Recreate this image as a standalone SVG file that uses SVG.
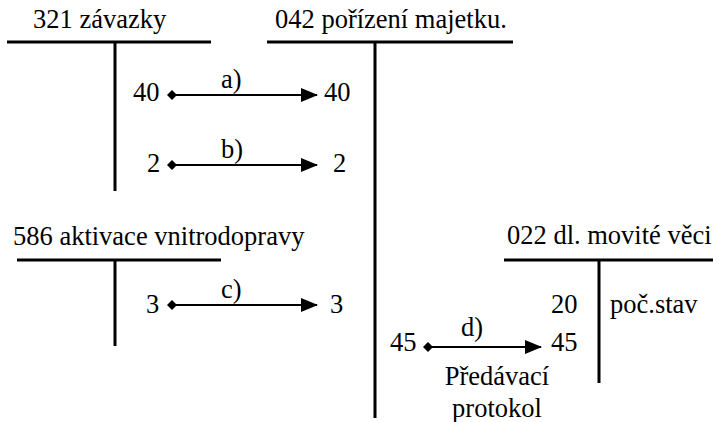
<svg xmlns="http://www.w3.org/2000/svg" width="720" height="422" viewBox="0 0 720 422">
  <style>
    .tx { font-family: "Liberation Serif", serif; font-size: 26.5px; fill: #000; }
    .mid { text-anchor: middle; }
    .t { stroke: #000; stroke-width: 3; fill: none; }
    .arrow { stroke: #000; stroke-width: 2; fill: none; }
  </style>
  <defs>
    <marker id="tri" markerUnits="userSpaceOnUse" viewBox="0 0 17 14" markerWidth="17" markerHeight="14" refX="16" refY="7" orient="auto">
      <path d="M0,0 L17,7 L0,14 Z" fill="#000"/>
    </marker>
    <marker id="dia" markerUnits="userSpaceOnUse" viewBox="0 0 10 10" markerWidth="10" markerHeight="10" refX="5" refY="5" orient="auto">
      <path d="M0,5 L5,0 L10,5 L5,10 Z" fill="#000"/>
    </marker>
  </defs>
  <rect width="720" height="422" fill="#fff"/>

  <g id="acc321">
    <text class="tx" font-family="Liberation Serif" x="33" y="28">321 závazky</text>
    <line class="t" x1="7" y1="42" x2="211" y2="42"/>
    <line class="t" x1="115" y1="42" x2="115" y2="191"/>
    <text class="tx" font-family="Liberation Serif" x="133" y="101">40</text>
    <text class="tx" font-family="Liberation Serif" x="147" y="172">2</text>
  </g>

  <g id="acc042">
    <text class="tx" font-family="Liberation Serif" x="275" y="28">042 pořízení majetku.</text>
    <line class="t" x1="267" y1="42" x2="513" y2="42"/>
    <line class="t" x1="375" y1="42" x2="375" y2="418"/>
    <text class="tx" font-family="Liberation Serif" x="324" y="101">40</text>
    <text class="tx" font-family="Liberation Serif" x="333" y="172">2</text>
    <text class="tx" font-family="Liberation Serif" x="330" y="313">3</text>
    <text class="tx" font-family="Liberation Serif" x="390" y="351">45</text>
  </g>

  <g id="acc586">
    <text class="tx" font-family="Liberation Serif" x="13" y="245">586 aktivace vnitrodopravy</text>
    <line class="t" x1="17" y1="260" x2="221" y2="260"/>
    <line class="t" x1="115" y1="260" x2="115" y2="346"/>
    <text class="tx" font-family="Liberation Serif" x="146" y="313">3</text>
  </g>

  <g id="acc022">
    <text class="tx" font-family="Liberation Serif" x="507" y="244">022 dl. movité věci</text>
    <line class="t" x1="504" y1="260" x2="713" y2="260"/>
    <line class="t" x1="599" y1="260" x2="599" y2="383"/>
    <text class="tx" font-family="Liberation Serif" x="551" y="313">20</text>
    <text class="tx" font-family="Liberation Serif" x="610" y="313">poč.stav</text>
    <text class="tx" font-family="Liberation Serif" x="551" y="351">45</text>
  </g>

  <g id="connectors">
    <line class="arrow" x1="172" y1="95" x2="317" y2="95" marker-start="url(#dia)" marker-end="url(#tri)"/>
    <text class="tx" font-family="Liberation Serif" x="221" y="88">a)</text>
    <line class="arrow" x1="172" y1="165" x2="317" y2="165" marker-start="url(#dia)" marker-end="url(#tri)"/>
    <text class="tx" font-family="Liberation Serif" x="221" y="158">b)</text>
    <line class="arrow" x1="172" y1="305" x2="317" y2="305" marker-start="url(#dia)" marker-end="url(#tri)"/>
    <text class="tx" font-family="Liberation Serif" x="221" y="298">c)</text>
    <line class="arrow" x1="428" y1="347" x2="541" y2="347" marker-start="url(#dia)" marker-end="url(#tri)"/>
    <text class="tx" font-family="Liberation Serif" x="461" y="336">d)</text>
    <text class="tx mid" font-family="Liberation Serif" x="497" y="385">Předávací</text>
    <text class="tx mid" font-family="Liberation Serif" x="497" y="417">protokol</text>
  </g>
</svg>
